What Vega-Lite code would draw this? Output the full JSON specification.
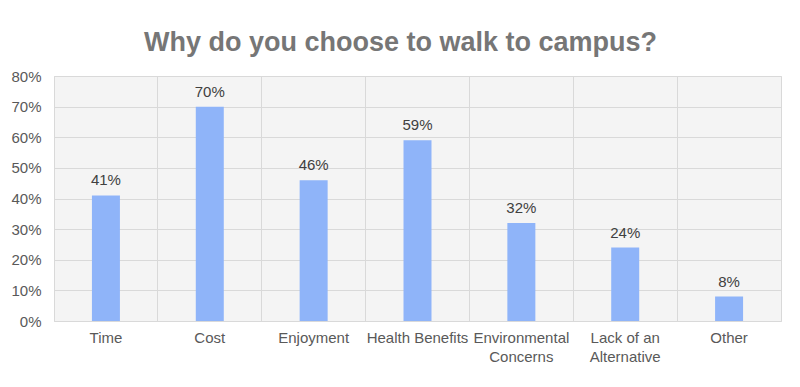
{
  "$schema": "https://vega.github.io/schema/vega-lite/v6.json",
  "width": 727,
  "height": 245,
  "autosize": {"type": "none"},
  "padding": {"left": 54, "top": 76, "right": 19, "bottom": 66},
  "background": "white",
  "title": {
    "text": "Why do you choose to walk to campus?",
    "font": "Liberation Sans",
    "fontSize": 27,
    "fontWeight": "bold",
    "color": "#767676",
    "anchor": "middle",
    "dx": -17,
    "offset": 12
  },
  "config": {
    "view": {"stroke": "#d9d9d9", "strokeWidth": 1, "fill": "#f4f4f4"},
    "font": "Liberation Sans"
  },
  "data": {
    "values": [
      {"reason": "Time", "pct": 0.41},
      {"reason": "Cost", "pct": 0.70},
      {"reason": "Enjoyment", "pct": 0.46},
      {"reason": "Health Benefits", "pct": 0.59},
      {"reason": "Environmental Concerns", "pct": 0.32},
      {"reason": "Lack of an Alternative", "pct": 0.24},
      {"reason": "Other", "pct": 0.08}
    ]
  },
  "encoding": {
    "x": {
      "field": "reason",
      "type": "nominal",
      "sort": null,
      "scale": {"paddingInner": 0, "paddingOuter": 0},
      "axis": {
        "title": null,
        "labelAngle": 0,
        "labelFontSize": 15,
        "labelColor": "#595959",
        "labelPadding": 9,
        "labelLineHeight": 19,
        "ticks": false,
        "domain": false,
        "grid": true,
        "gridColor": "#d9d9d9",
        "bandPosition": 0,
        "labelExpr": "datum.value == 'Environmental Concerns' ? ['Environmental', 'Concerns'] : datum.value == 'Lack of an Alternative' ? ['Lack of an', 'Alternative'] : datum.value"
      }
    },
    "y": {
      "field": "pct",
      "type": "quantitative",
      "scale": {"domain": [0, 0.8]},
      "axis": {
        "title": null,
        "format": ".0%",
        "values": [0, 0.1, 0.2, 0.3, 0.4, 0.5, 0.6, 0.7, 0.8],
        "labelOverlap": false,
        "labelFontSize": 15,
        "labelColor": "#595959",
        "labelPadding": 13,
        "ticks": false,
        "domain": false,
        "gridColor": "#d9d9d9"
      }
    }
  },
  "layer": [
    {"mark": {"type": "bar", "color": "#8fb4f9", "size": 28}},
    {
      "mark": {"type": "text", "baseline": "alphabetic", "dy": -10, "fontSize": 15, "color": "#404040"},
      "encoding": {"text": {"field": "pct", "type": "quantitative", "format": ".0%"}}
    }
  ]
}
